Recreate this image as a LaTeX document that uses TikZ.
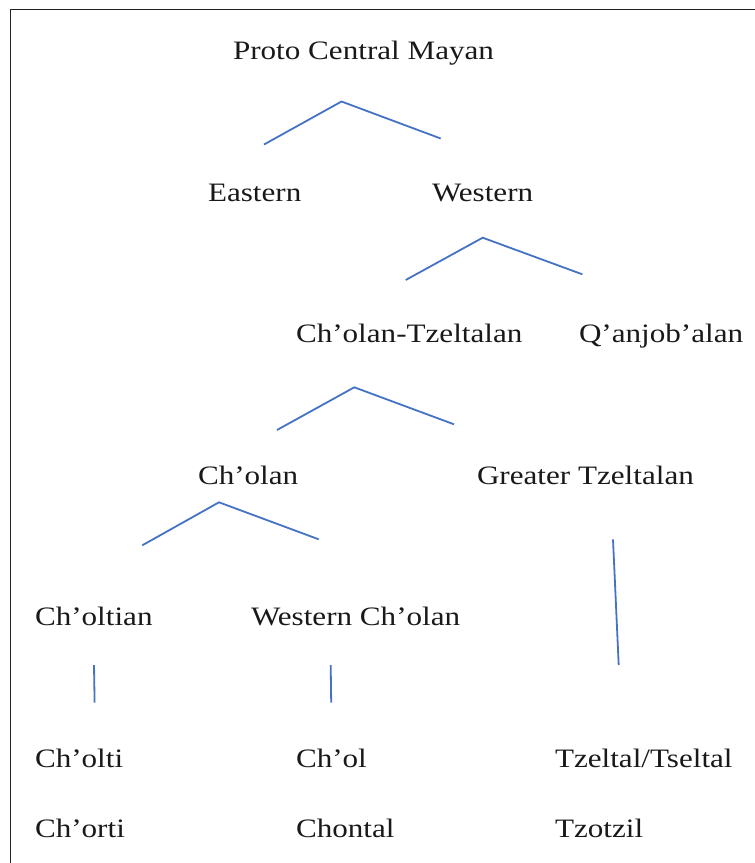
\documentclass[tikz,border=0pt]{standalone}
\usepackage{fontspec}
\setmainfont{Liberation Serif}[FakeStretch=1.17]
\definecolor{branch}{HTML}{4472C4}
\definecolor{frame}{HTML}{222222}
\begin{document}
\begin{tikzpicture}[x=1pt,y=-1pt,
  lang/.style={anchor=base west,inner sep=0pt,outer sep=0pt,text=black!90,font=\fontsize{26.6}{30}\selectfont},
  branchline/.style={draw=branch,line width=1.8pt,line join=miter},
  frameline/.style={draw=frame,line width=1.5pt}]
\useasboundingbox (0,0) rectangle (755,863);
% frame (top and left edges)
\coordinate (ftr) at (755,9.5);
\coordinate (ftl) at (10.3,9.5);
\coordinate (fbl) at (10.3,863);
\draw[frameline] (ftr) -- (ftl) -- (fbl);
% labels
\node[lang] (pcm) at (233,59) {Proto Central Mayan};
\node[lang] (eas) at (208,201) {Eastern};
\node[lang] (wes) at (432,201) {Western};
\node[lang] (ct) at (296,342) {Ch’olan-Tzeltalan};
\node[lang] (qa) at (579,342) {Q’anjob’alan};
\node[lang] (cho) at (198,484) {Ch’olan};
\node[lang] (gt) at (477,484) {Greater Tzeltalan};
\node[lang] (cht) at (35,625) {Ch’oltian};
\node[lang] (wc) at (251,625) {Western Ch’olan};
\node[lang] (chi) at (35,767) {Ch’olti};
\node[lang] (chol) at (296,767) {Ch’ol};
\node[lang] (tz) at (555,767) {Tzeltal/Tseltal};
\node[lang] (cho2) at (35,837) {Ch’orti};
\node[lang] (chon) at (296,837) {Chontal};
\node[lang] (tzo) at (555,837) {Tzotzil};
% branch points
\coordinate (a1) at (264,144.5);
\coordinate (p1) at (341.5,101.5);
\coordinate (b1) at (440.7,138.5);
\coordinate (a2) at (405.7,280);
\coordinate (p2) at (482.7,237.7);
\coordinate (b2) at (582.3,274.3);
\coordinate (a3) at (277,430);
\coordinate (p3) at (354.3,387.3);
\coordinate (b3) at (454,424.3);
\coordinate (a4) at (142.3,545.3);
\coordinate (p4) at (219,502.3);
\coordinate (b4) at (318.7,539.3);
\coordinate (g1) at (613,539.3);
\coordinate (g2) at (618.7,665);
\coordinate (c1) at (94,665);
\coordinate (c2) at (94.6,702.7);
\coordinate (w1) at (330.7,665);
\coordinate (w2) at (331.2,702.7);
% branches
\draw[branchline] (a1) -- (p1) -- (b1);
\draw[branchline] (a2) -- (p2) -- (b2);
\draw[branchline] (a3) -- (p3) -- (b3);
\draw[branchline] (a4) -- (p4) -- (b4);
\draw[branchline] (g1) -- (g2);
\draw[branchline] (c1) -- (c2);
\draw[branchline] (w1) -- (w2);
\end{tikzpicture}
\end{document}
